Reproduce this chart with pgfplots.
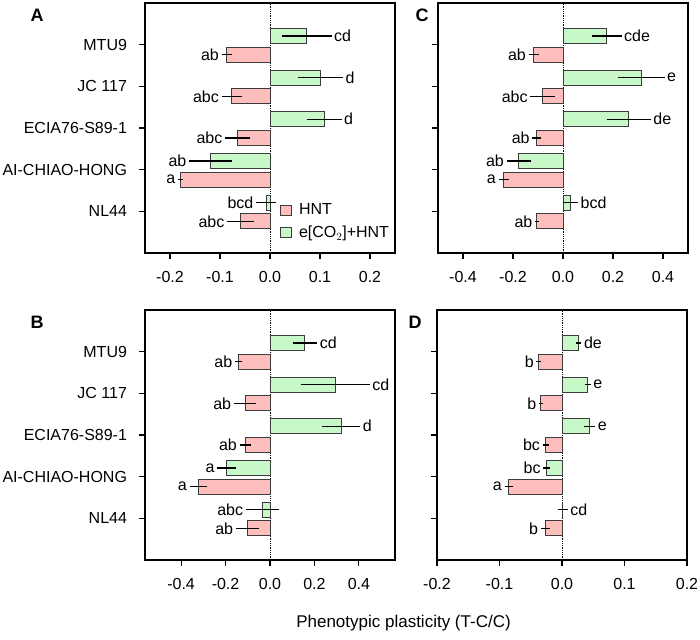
\documentclass[border=0pt]{standalone}
\usepackage{pgfplots}
\pgfplotsset{compat=1.18}
\usepackage{pgfplotstable}
\usepackage{fontspec}
\setmainfont{Liberation Sans}
\definecolor{hntpink}{RGB}{255,190,190}
\definecolor{co2green}{RGB}{200,247,200}
\definecolor{baredge}{RGB}{60,60,60}

% columns: y = position, v = mean, e = error, s = side of letter, lab = letter
\pgfplotstableread{
y v e s lab
5.21 0.073 0.050 1 cd
4.21 0.101 0.045 1 d
3.21 0.108 0.035 1 d
2.21 -0.119 0.043 -1 ab
1.21 -0.008 0.020 -1 bcd
}\AG
\pgfplotstableread{
y v e s lab
4.76 -0.087 0.010 -1 ab
3.76 -0.077 0.020 -1 abc
2.76 -0.065 0.025 -1 abc
1.76 -0.179 0.005 -1 a
0.76 -0.059 0.027 -1 abc
}\AP
\pgfplotstableread{
y v e s lab
5.21 0.175 0.059 1 cde
4.21 0.312 0.094 1 e
3.21 0.263 0.088 1 de
2.21 -0.178 0.048 -1 ab
1.21 0.029 0.031 1 bcd
}\CG
\pgfplotstableread{
y v e s lab
4.76 -0.118 0.020 -1 ab
3.76 -0.082 0.049 -1 abc
2.76 -0.105 0.018 -1 ab
1.76 -0.237 0.021 -1 a
0.76 -0.105 0.007 -1 ab
}\CP
\pgfplotstableread{
y v e s lab
5.21 0.157 0.055 1 cd
4.21 0.295 0.154 1 cd
3.21 0.321 0.085 1 d
2.21 -0.195 0.043 -1 a
1.21 -0.034 0.075 -1 abc
}\BG
\pgfplotstableread{
y v e s lab
4.76 -0.142 0.016 -1 ab
3.76 -0.112 0.051 -1 ab
2.76 -0.112 0.025 -1 ab
1.76 -0.322 0.040 -1 a
0.76 -0.102 0.052 -1 ab
}\BP
\pgfplotstableread{
y v e s lab
5.21 0.027 0.004 1 de
4.21 0.041 0.005 1 e
3.21 0.044 0.009 1 e
2.21 -0.025 0.005 -1 bc
1.21 0.001 0.008 1 cd
}\DG
\pgfplotstableread{
y v e s lab
4.76 -0.037 0.004 -1 b
3.76 -0.034 0.003 -1 b
2.76 -0.026 0.005 -1 bc
1.76 -0.085 0.007 -1 a
0.76 -0.027 0.007 -1 b
}\DP

\pgfplotsset{
  panel/.style={
    scale only axis, width=250pt, height=250pt,
    ymin=0, ymax=6, ytick={1,2,3,4,5},
    yticklabels={},
    tick align=outside, xtick pos=bottom, ytick pos=left,
    major tick length=6pt,
    axis line style={line width=1.2pt},
    every tick/.style={black, line width=1.2pt},
    xticklabel style={/pgf/number format/fixed, /pgf/number format/fixed zerofill,
      /pgf/number format/precision=1, /pgf/number format/assume math mode=true,
      yshift=-7pt},
    yticklabel style={xshift=-6.5pt},
    clip=false,
  },
  bars/.style={xbar, bar width=15pt, bar shift=0pt, draw=baredge, line width=0.8pt, fill=#1,
    legend image code/.code={\draw[fill=#1, draw=baredge, line width=0.8pt] (0pt,-5pt) rectangle (11pt,5pt);},
    error bars/.cd, x dir=both, x explicit, error mark=none,
    error bar style={line width=1.3pt, black}},
  lettersR/.style={forget plot, draw=none, mark=none, nodes near coords,
    point meta=explicit symbolic, restrict x to domain=0:10,
    nodes near coords style={anchor=west, inner sep=2.5pt, black}},
  lettersL/.style={forget plot, draw=none, mark=none, nodes near coords,
    point meta=explicit symbolic, restrict x to domain=-10:0,
    nodes near coords style={anchor=east, inner sep=2.5pt, black}},
  zeroline/.style={forget plot, densely dotted, black, line width=0.8pt},
}

\newcommand\panelplots[2]{%
  \addplot[zeroline] coordinates {(0,0) (0,6)};
  \addplot[bars=hntpink] table[x=v, y=y, x error=e] {#1};
  \addplot[bars=co2green] table[x=v, y=y, x error=e] {#2};
  \addplot[lettersL] table[x expr=\thisrow{v}+\thisrow{s}*\thisrow{e}, y=y, meta=lab] {#1};
  \addplot[lettersL] table[x expr=\thisrow{v}+\thisrow{s}*\thisrow{e}, y=y, meta=lab] {#2};
  \addplot[lettersR] table[x expr=\thisrow{v}+\thisrow{s}*\thisrow{e}, y=y, meta=lab] {#2};
}

\begin{document}
\fontsize{16}{19}\selectfont%
\begin{tikzpicture}[x=1pt,y=1pt]
\useasboundingbox (0,0) rectangle (700,639);

% Panel A
\begin{axis}[panel, at={(145pt,636pt)}, anchor=north west,
  xmin=-0.25, xmax=0.25, xtick={-0.2,-0.1,0,0.1,0.2},
  yticklabels={NL44,AI-CHIAO-HONG,ECIA76-S89-1,JC 117,MTU9},
  legend style={at={(0.54,0.207)}, anchor=north west, draw=none, fill=none,
    inner sep=0pt, row sep=5pt, nodes={inner sep=2pt},
    /tikz/every odd column/.append style={column sep=5pt}},
  legend cell align=left]
\panelplots{\AP}{\AG}
\legend{HNT, {e[CO$_2$]+HNT}}
\end{axis}

% Panel C
\begin{axis}[panel, at={(438pt,636pt)}, anchor=north west,
  xmin=-0.5, xmax=0.5, xtick={-0.4,-0.2,0,0.2,0.4}]
\panelplots{\CP}{\CG}
\end{axis}

% Panel B
\begin{axis}[panel, at={(145pt,329pt)}, anchor=north west,
  xmin=-0.5625, xmax=0.5625, xtick={-0.4,-0.2,0,0.2,0.4},
  yticklabels={NL44,AI-CHIAO-HONG,ECIA76-S89-1,JC 117,MTU9}]
\panelplots{\BP}{\BG}
\end{axis}

% Panel D
\begin{axis}[panel, at={(437pt,329pt)}, anchor=north west,
  xmin=-0.2, xmax=0.2, xtick={-0.2,-0.1,0,0.1,0.2}]
\panelplots{\DP}{\DG}
\end{axis}

\node[font=\fontsize{18}{21}\selectfont\bfseries] at (37,624) {A};
\node[font=\fontsize{18}{21}\selectfont\bfseries] at (37,317) {B};
\node[font=\fontsize{18}{21}\selectfont\bfseries] at (422,624) {C};
\node[font=\fontsize{18}{21}\selectfont\bfseries] at (415,317) {D};
\node[font=\fontsize{17}{20}\selectfont] at (403.5,16) {Phenotypic plasticity (T-C/C)};
\end{tikzpicture}%
\end{document}
